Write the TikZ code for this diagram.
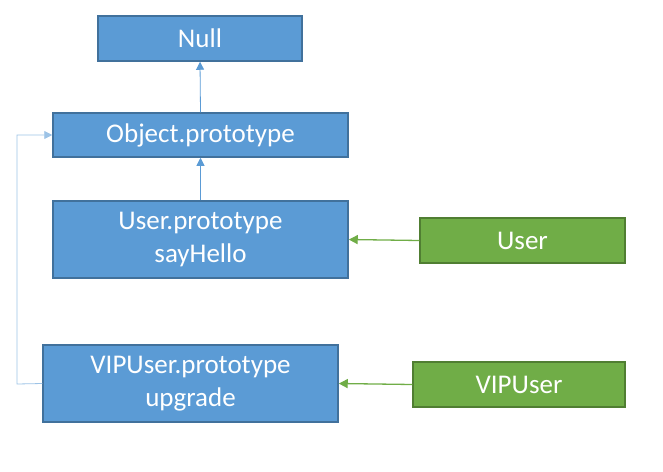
\documentclass[tikz,border=0pt]{standalone}
\usepackage{fontspec}
\setmainfont{Carlito}
\usepackage{xcolor}
\usetikzlibrary{arrows.meta}
\definecolor{boxblue}{HTML}{5B9BD5}
\definecolor{edgeblue}{HTML}{41719C}
\definecolor{boxgreen}{HTML}{70AD47}
\definecolor{edgegreen}{HTML}{507E32}
\definecolor{lineblue}{HTML}{9DC3E6}
\tikzset{
  protobox/.style={draw=edgeblue, fill=boxblue, line width=1.5pt, text=white,
    font=\fontsize{27}{33}\selectfont, align=center, inner sep=0pt},
  ctorbox/.style={draw=edgegreen, fill=boxgreen, line width=1.5pt, text=white,
    font=\fontsize{27}{33}\selectfont, align=center, inner sep=0pt,
    minimum height=45pt},
  protolink/.style={draw=boxblue, line width=0.8pt, -{Triangle[width=8pt,length=8pt]}},
  ctorlink/.style={draw=boxgreen, line width=1.3pt, -{Triangle[width=9pt,length=9pt]}}
}
\begin{document}
\begin{tikzpicture}[x=1pt, y=-1pt]
				\useasboundingbox (0,0) rectangle (663,471);
				
				% Prototype chain
				\node[protobox, minimum width=204pt, minimum height=45pt] (null) at (200,38.5) {Null};
				\node[protobox, minimum width=295pt, minimum height=44pt] (objproto) at (200.5,135) {Object.prototype};
				\node[protobox, minimum width=295pt, minimum height=77pt] (userproto) at (200.5,239.5) {User.prototype\\sayHello};
				\node[protobox, minimum width=295pt, minimum height=77pt] (vipproto) at (190.5,383.5) {VIPUser.prototype\\upgrade};
				
				% Constructors
				\node[ctorbox, minimum width=205pt] (user) at (522.5,240.5) {User};
				\node[ctorbox, minimum width=212pt] (vipuser) at (519,384.5) {VIPUser};
				
				% Links up the chain
				\draw[protolink] (objproto.north) -- (null.south);
				\draw[protolink] (userproto.north) -- (objproto.south);
				\coordinate (bend) at (17,384);
				\draw[protolink, draw=lineblue] (vipproto.west) -- (bend) |- (objproto.west);
				
				% Constructor to prototype
				\draw[ctorlink] (user.west) -- (userproto.east);
				\draw[ctorlink] (vipuser.west) -- (vipproto.east);
				
			\end{tikzpicture}
\end{document}
